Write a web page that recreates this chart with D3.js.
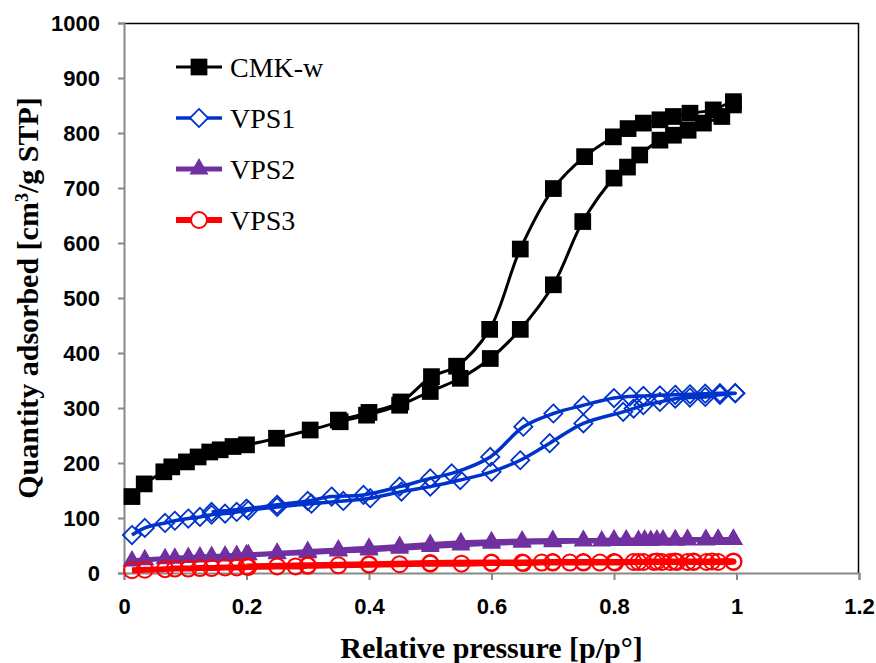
<!DOCTYPE html>
<html>
<head>
<meta charset="utf-8">
<script src="https://cdn.jsdelivr.net/npm/d3@7"></script>
<style>
  body { margin: 0; background: #fff; }
  svg { display: block; }
</style>
</head>
<body>
<div id="chart"></div>
<script>
// Each series is one continuous run: adsorption points then desorption points
var cmkP = [0.013,0.033,0.065,0.078,0.102,0.121,0.140,0.157,0.178,0.200,0.249,0.304,0.353,0.396,0.450,0.500,0.549,0.598,0.647,0.701,0.749,0.800,0.822,0.842,0.875,0.897,0.921,0.946,0.976,0.995,
            0.995,0.962,0.924,0.897,0.875,0.848,0.823,0.799,0.752,0.701,0.647,0.597,0.543,0.502,0.452,0.400,0.350];
var cmkV = [139,162,184,193,202,211,220,224,230,233,245,260,275,287,305,330,354,390,443,524,639,718,738,760,787,796,805,818,830,851,
            857,842,836,830,824,818,808,793,757,699,589,443,376,357,311,292,278];

var vps1P = [0.013,0.034,0.067,0.083,0.105,0.124,0.143,0.165,0.184,0.203,0.250,0.306,0.358,0.402,0.453,0.500,0.549,0.600,0.647,0.695,0.750,0.815,0.832,0.848,0.875,0.900,0.924,0.949,0.973,0.998,
             0.998,0.973,0.949,0.924,0.900,0.875,0.848,0.826,0.800,0.750,0.701,0.652,0.598,0.535,0.500,0.450,0.391,0.339,0.300,0.250,0.200,0.143];
var vps1V = [69,82,91,95,99,102,106,108,111,114,120,126,131,136,148,157,169,184,205,236,272,293,299,305,311,317,319,320,324,327,
             327,327,326,325,324,323,322,321,318,305,290,266,211,181,172,157,142,139,131,124,117,111];

var vps2P = [0.013,0.034,0.067,0.083,0.105,0.124,0.143,0.165,0.184,0.203,0.250,0.300,0.350,0.400,0.450,0.500,0.550,0.600,0.650,0.700,0.750,0.780,0.800,0.820,0.840,0.860,0.880,0.900,0.920,0.950,0.970,0.995,
             0.995,0.970,0.950,0.920,0.900,0.870,0.850,0.820,0.800,0.750,0.700,0.650,0.600,0.550,0.500,0.450,0.400,0.350,0.300,0.250,0.200];
var vps2V = [22,24,26,27,28,29,30,31,32,33,35,37,40,42,45,48,51,54,56,57,58,58,59,59,59,59,60,60,60,60,61,61,
             61,61,61,61,60,60,60,60,60,59,59,58,57,55,52,48,45,42,39,36,33];

var vps3P = [0.013,0.034,0.067,0.083,0.105,0.124,0.143,0.165,0.184,0.203,0.250,0.280,0.300,0.350,0.400,0.450,0.500,0.551,0.600,0.652,0.682,0.700,0.728,0.750,0.777,0.802,0.832,0.848,0.865,0.878,0.892,0.903,0.920,0.930,0.951,0.970,0.995,
             0.995,0.960,0.930,0.900,0.870,0.840,0.800,0.750,0.700,0.650,0.600,0.500,0.400,0.300,0.200];
var vps3V = [5,6,7,8,8,9,9,10,10,11,12,12,13,14,15,16,17,17,18,18,19,19,19,19,19,19,20,20,20,20,20,20,20,20,20,20,20,
             21,21,21,21,21,20,20,20,20,19,19,18,16,14,12];

var seriesNames = ["CMK-w", "VPS1", "VPS2", "VPS3"];
var xTicks = [0, 0.2, 0.4, 0.6, 0.8, 1, 1.2];
var yTicks = [0, 100, 200, 300, 400, 500, 600, 700, 800, 900, 1000];

var W = 876, H = 663;
var margin = {top: 23, right: 17, bottom: 90, left: 124};
var width = W - margin.left - margin.right,
    height = H - margin.top - margin.bottom;

var svg = d3.select("#chart").append("svg")
    .attr("width", W)
    .attr("height", H);

var g = svg.append("g")
    .attr("transform", "translate(" + margin.left + "," + margin.top + ")");

var x = d3.scaleLinear().domain([0, 1.2]).range([0, width]);
var y = d3.scaleLinear().domain([0, 1000]).range([height, 0]);

// frame: top and right black, axes gray
g.append("line").attr("x1", 0).attr("x2", width).attr("y1", 0.5).attr("y2", 0.5)
  .attr("stroke", "#000").attr("stroke-width", 1.5);
g.append("line").attr("x1", width - 0.5).attr("x2", width - 0.5).attr("y1", 0).attr("y2", height)
  .attr("stroke", "#000").attr("stroke-width", 1.5);

var axisFont = "'Liberation Sans', Arial, sans-serif";

var yAxis = g.append("g")
  .call(d3.axisLeft(y).tickValues(yTicks).tickSize(6).tickPadding(18).tickFormat(d3.format("d")));
var xAxis = g.append("g")
  .attr("transform", "translate(0," + height + ")")
  .call(d3.axisBottom(x).tickValues(xTicks).tickSize(7).tickPadding(18).tickFormat(function(d) { return d; }));

[xAxis, yAxis].forEach(function(a) {
  a.select(".domain").attr("stroke", "#888").attr("stroke-width", 2);
  a.selectAll(".tick line").attr("stroke", "#888").attr("stroke-width", 2);
  a.selectAll("text")
    .attr("fill", "#000")
    .style("font-family", axisFont)
    .style("font-weight", "bold")
    .style("font-size", "22px");
});

// axis titles
svg.append("text")
  .attr("x", margin.left + x(0.6))
  .attr("y", 658)
  .attr("text-anchor", "middle")
  .style("font-family", "'Liberation Serif', 'Times New Roman', serif")
  .style("font-weight", "bold")
  .style("font-size", "30px")
  .text("Relative pressure [p/p°]");

var yt = svg.append("text")
  .attr("transform", "translate(38," + (margin.top + y(500)) + ") rotate(-90)")
  .attr("text-anchor", "middle")
  .style("font-family", "'Liberation Serif', 'Times New Roman', serif")
  .style("font-weight", "bold")
  .style("font-size", "30px");
yt.append("tspan").text("Quantity adsorbed [cm");
yt.append("tspan").attr("dy", -10).style("font-size", "18px").text("3");
yt.append("tspan").attr("dy", 10).text("/g STP]");

function pts(ps, vs) {
  return ps.map(function(p, i) { return {p: p, v: vs[i]}; });
}

var line = d3.line()
  .x(function(d) { return x(d.p); })
  .y(function(d) { return y(d.v); })
  .curve(d3.curveCatmullRom.alpha(0.5));

var series = [
  {name: seriesNames[0], data: pts(cmkP, cmkV), color: "#000000", lw: 3, sym: d3.symbolSquare, size: 280, fill: "#000000", sw: 0},
  {name: seriesNames[1], data: pts(vps1P, vps1V), color: "#0033CC", lw: 3.5, sym: d3.symbolDiamond2, size: 210, fill: "none", sw: 1.8},
  {name: seriesNames[2], data: pts(vps2P, vps2V), color: "#7030A0", lw: 5, sym: d3.symbolTriangle2, size: 260, fill: "#7030A0", sw: 0},
  {name: seriesNames[3], data: pts(vps3P, vps3V), color: "#FF0000", lw: 6, sym: d3.symbolCircle, size: 200, fill: "none", sw: 2}
];

series.forEach(function(s) {
  g.append("path")
    .datum(s.data)
    .attr("fill", "none")
    .attr("stroke", s.color)
    .attr("stroke-width", s.lw)
    .attr("stroke-linejoin", "round")
    .attr("d", line);

  g.append("g")
    .selectAll("path")
    .data(s.data)
    .enter()
    .append("path")
      .attr("transform", function(d) { return "translate(" + x(d.p) + "," + y(d.v) + ")"; })
      .attr("d", d3.symbol().type(s.sym).size(s.size))
      .attr("fill", s.fill)
      .attr("stroke", s.sw ? s.color : "none")
      .attr("stroke-width", s.sw);
});

// legend
var legend = svg.append("g").attr("transform", "translate(176,67)");
series.forEach(function(s, i) {
  var row = legend.append("g").attr("transform", "translate(0," + (i * 51) + ")");
  row.append("line").attr("x1", 0).attr("x2", 46).attr("y1", 0).attr("y2", 0)
    .attr("stroke", s.color).attr("stroke-width", s.lw);
  row.append("path")
    .attr("transform", "translate(23,0)")
    .attr("d", d3.symbol().type(s.sym).size(s.size))
    .attr("fill", s.fill === "none" ? "#fff" : s.fill)
    .attr("stroke", s.sw ? s.color : "none")
    .attr("stroke-width", s.sw);
  row.append("text")
    .attr("x", 54)
    .attr("y", 10)
    .style("font-family", "'Liberation Serif', 'Times New Roman', serif")
    .style("font-size", "28px")
    .attr("fill", "#000")
    .text(s.name);
});
</script>
</body>
</html>
